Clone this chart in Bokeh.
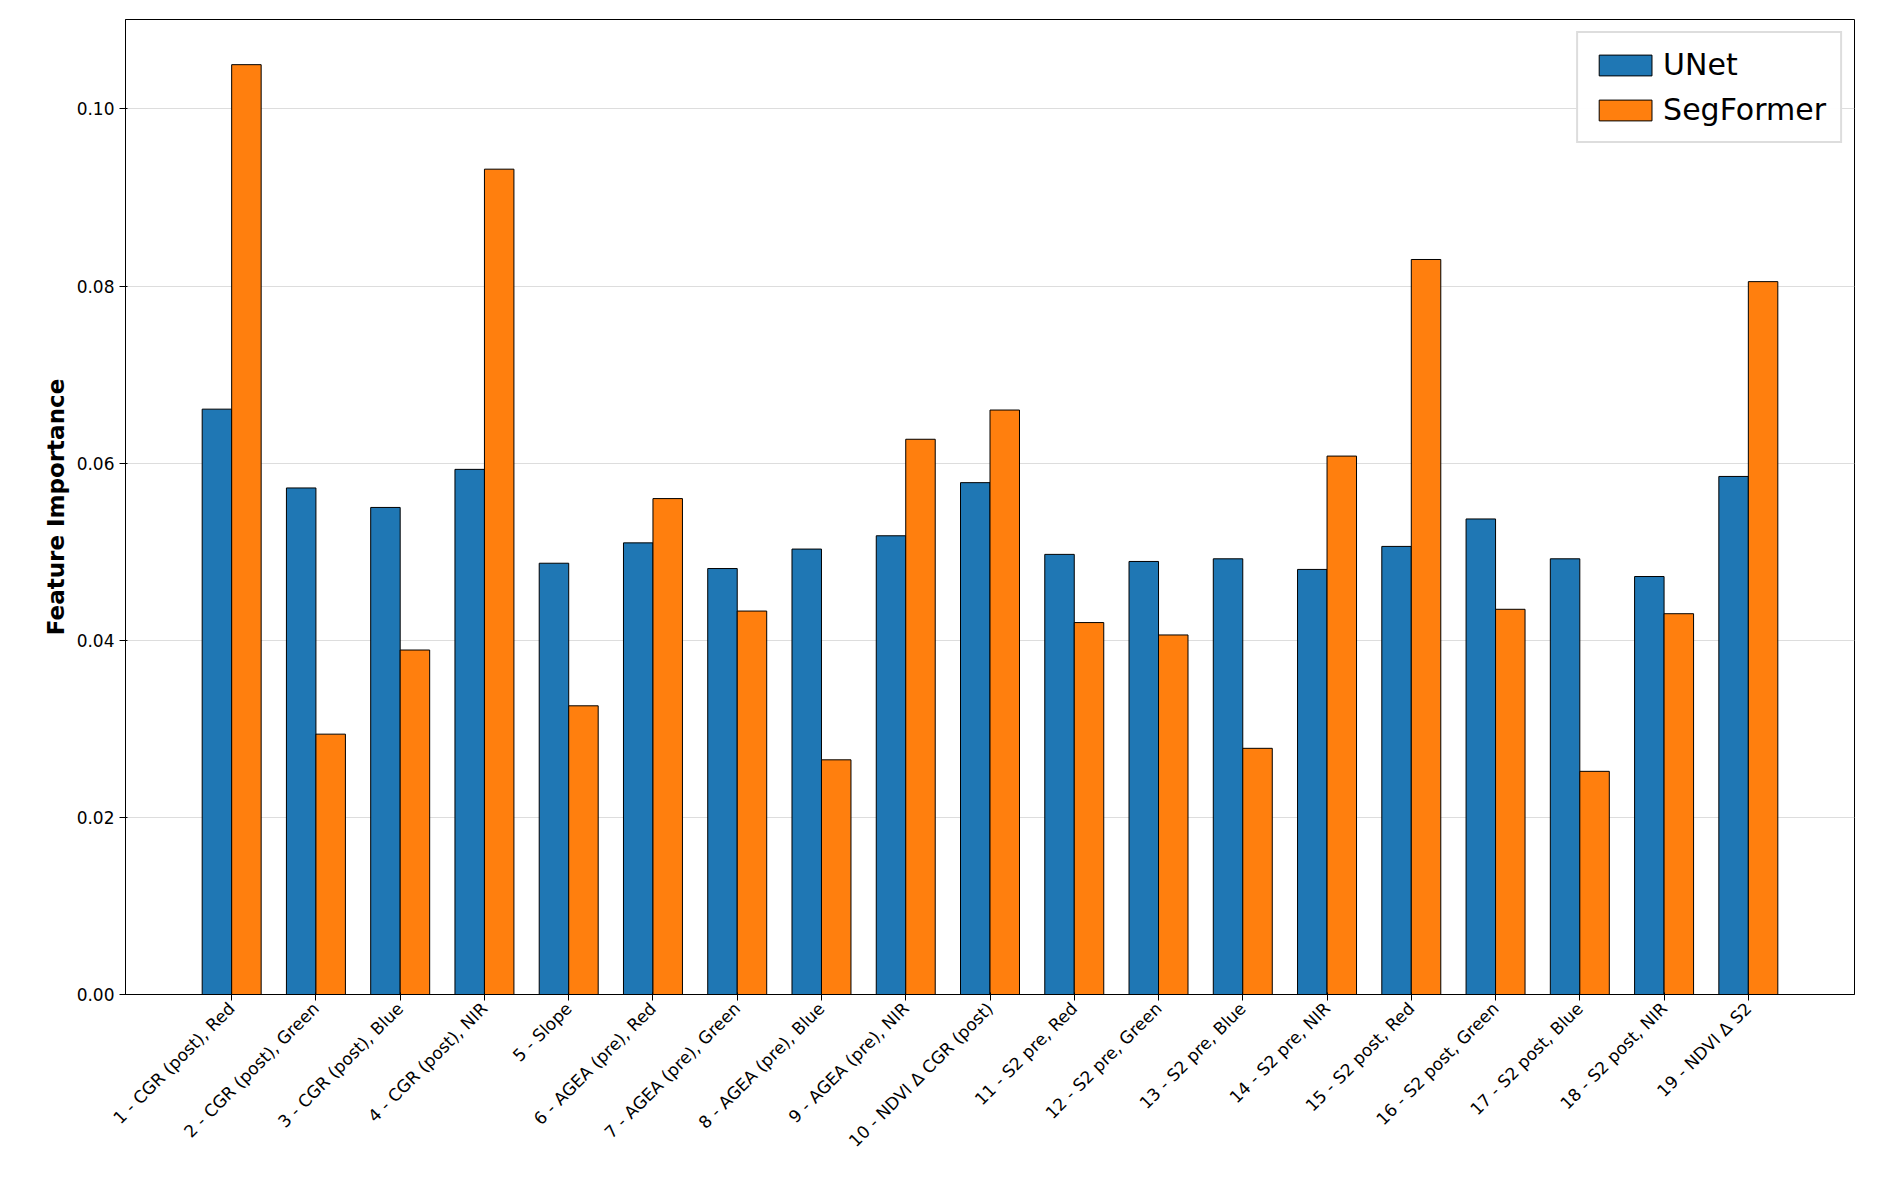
import math
from bokeh.plotting import figure
from bokeh.models import FixedTicker, Legend, LegendItem, ColumnDataSource, CustomJSTickFormatter
from bokeh.embed import file_html
from bokeh.resources import INLINE

features = ["1 - CGR (post), Red", "2 - CGR (post), Green", "3 - CGR (post), Blue", "4 - CGR (post), NIR",
            "5 - Slope", "6 - AGEA (pre), Red", "7 - AGEA (pre), Green", "8 - AGEA (pre), Blue",
            "9 - AGEA (pre), NIR", "10 - NDVI Δ CGR (post)", "11 - S2 pre, Red", "12 - S2 pre, Green",
            "13 - S2 pre, Blue", "14 - S2 pre, NIR", "15 - S2 post, Red", "16 - S2 post, Green",
            "17 - S2 post, Blue", "18 - S2 post, NIR", "19 - NDVI Δ S2"]
unet = [0.0661, 0.0572, 0.0550, 0.0593, 0.0487, 0.0510, 0.0481, 0.0503, 0.0518, 0.0578,
        0.0497, 0.0489, 0.0492, 0.0480, 0.0506, 0.0537, 0.0492, 0.0472, 0.0585]
segformer = [0.1050, 0.0294, 0.0389, 0.0932, 0.0326, 0.0560, 0.0433, 0.0265, 0.0627, 0.0660,
             0.0420, 0.0406, 0.0278, 0.0608, 0.0830, 0.0435, 0.0252, 0.0430, 0.0805]
y_ticks = [0.0, 0.02, 0.04, 0.06, 0.08, 0.10]

idx = list(range(len(features)))
w = 0.35
p = figure(width=1876, height=1184, x_range=(-1.26, len(features) - 1 + 1.26), y_range=(0, 0.1101),
           output_backend="svg", toolbar_location=None, min_border_left=125, min_border_right=22,
           min_border_top=19, min_border_bottom=190)
s1 = ColumnDataSource(dict(x=[i - w / 2 for i in idx], top=unet))
s2 = ColumnDataSource(dict(x=[i + w / 2 for i in idx], top=segformer))
r1 = p.vbar(x="x", top="top", width=w, source=s1, fill_color="#1f77b4", line_color="black", line_width=1)
r2 = p.vbar(x="x", top="top", width=w, source=s2, fill_color="#ff7f0e", line_color="black", line_width=1)

p.xaxis.ticker = FixedTicker(ticks=idx)
p.xaxis.major_label_overrides = {i: f for i, f in enumerate(features)}
p.xaxis.major_label_orientation = math.pi / 4
p.yaxis.ticker = FixedTicker(ticks=y_ticks)
p.yaxis.formatter = CustomJSTickFormatter(code="return tick.toFixed(2);")
for ax in (p.xaxis, p.yaxis):
    ax.major_label_text_font = "DejaVu Sans"
    ax.major_label_text_font_size = "17px"
    ax.major_label_text_color = "black"
    ax.axis_line_color = "black"
    ax.major_tick_line_color = "black"
    ax.minor_tick_line_color = None
p.yaxis.axis_label = "Feature Importance"
p.yaxis.axis_label_text_font = "DejaVu Sans"
p.yaxis.axis_label_text_font_style = "bold"
p.yaxis.axis_label_text_font_size = "23px"
p.yaxis.axis_label_text_color = "black"
p.xgrid.grid_line_color = None
p.ygrid.grid_line_color = "#dddddd"
p.outline_line_color = "black"
p.outline_line_alpha = 1

legend = Legend(items=[LegendItem(label="UNet", renderers=[r1]), LegendItem(label="SegFormer", renderers=[r2])],
                location="top_right", label_text_font="DejaVu Sans", label_text_font_size="30px",
                label_text_color="black", glyph_width=66, glyph_height=26, spacing=10, padding=14,
                border_line_color="#bbbbbb", border_line_width=2, margin=12)
p.add_layout(legend)

open("out.html", "w").write(file_html(p, INLINE))
